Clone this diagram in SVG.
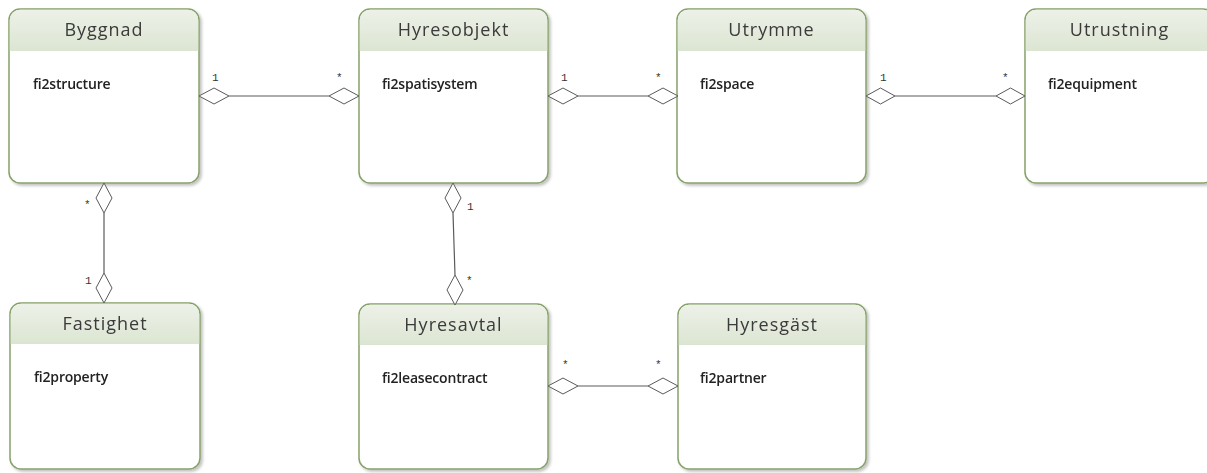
<svg xmlns="http://www.w3.org/2000/svg" width="1207" height="473" viewBox="0 0 1207 473">
<defs>
<linearGradient id="hg" x1="0" y1="0" x2="0" y2="1">
<stop offset="0" stop-color="#edf1e8"/>
<stop offset="1" stop-color="#dce5d2"/>
</linearGradient>
<filter id="sh" x="-10%" y="-10%" width="120%" height="120%">
<feGaussianBlur in="SourceAlpha" stdDeviation="1.5"/>
<feOffset dx="2" dy="2" result="b"/>
<feComponentTransfer><feFuncA type="linear" slope="0.25"/></feComponentTransfer>
<feMerge><feMergeNode/><feMergeNode in="SourceGraphic"/></feMerge>
</filter>
</defs>
<style>
.box{fill:#fff;stroke:#86a26a;stroke-width:1.5}
.hdr{fill:url(#hg)}
.title{font-family:"Open Sans","Noto Sans",sans-serif;font-size:18px;fill:#3a3a3a;text-anchor:middle;letter-spacing:1px}
.attr{font-family:"Open Sans","Noto Sans",sans-serif;font-size:14px;font-weight:600;fill:#222;letter-spacing:-0.2px}
.ln{stroke:#5a5a5a;stroke-width:1.2;fill:none}
.dm{fill:#fff;stroke:#5a5a5a;stroke-width:1}
.ml{font-family:"Liberation Mono","DejaVu Sans Mono",monospace;font-size:11px;fill:#333}
</style>
<g id="Byggnad" filter="url(#sh)">
<rect class="box" x="9" y="9" width="190" height="174" rx="11"/>
<path class="hdr" d="M20,9.75 H188 A10.25,10.25 0 0 1 198.25,20 V51 H9.75 V20 A10.25,10.25 0 0 1 20,9.75 Z"/>
<text class="title" x="104" y="36">Byggnad</text>
<text class="attr" x="33" y="89">fi2structure</text>
</g>
<g id="Hyresobjekt" filter="url(#sh)">
<rect class="box" x="359" y="9" width="189" height="174" rx="11"/>
<path class="hdr" d="M370,9.75 H537 A10.25,10.25 0 0 1 547.25,20 V51 H359.75 V20 A10.25,10.25 0 0 1 370,9.75 Z"/>
<text class="title" x="453.5" y="36">Hyresobjekt</text>
<text class="attr" x="382" y="89">fi2spatisystem</text>
</g>
<g id="Utrymme" filter="url(#sh)">
<rect class="box" x="677" y="9" width="189" height="174" rx="11"/>
<path class="hdr" d="M688,9.75 H855 A10.25,10.25 0 0 1 865.25,20 V51 H677.75 V20 A10.25,10.25 0 0 1 688,9.75 Z"/>
<text class="title" x="771.5" y="36">Utrymme</text>
<text class="attr" x="700" y="89">fi2space</text>
</g>
<g id="Utrustning" filter="url(#sh)">
<rect class="box" x="1025" y="9" width="189" height="174" rx="11"/>
<path class="hdr" d="M1036,9.75 H1203 A10.25,10.25 0 0 1 1213.25,20 V51 H1025.75 V20 A10.25,10.25 0 0 1 1036,9.75 Z"/>
<text class="title" x="1119.5" y="36">Utrustning</text>
<text class="attr" x="1048" y="89">fi2equipment</text>
</g>
<g id="Fastighet" filter="url(#sh)">
<rect class="box" x="10" y="303" width="190" height="166" rx="11"/>
<path class="hdr" d="M21,303.75 H189 A10.25,10.25 0 0 1 199.25,314 V344 H10.75 V314 A10.25,10.25 0 0 1 21,303.75 Z"/>
<text class="title" x="105" y="330">Fastighet</text>
<text class="attr" x="34" y="382">fi2property</text>
</g>
<g id="Hyresavtal" filter="url(#sh)">
<rect class="box" x="359" y="304" width="189" height="165" rx="11"/>
<path class="hdr" d="M370,304.75 H537 A10.25,10.25 0 0 1 547.25,315 V345 H359.75 V315 A10.25,10.25 0 0 1 370,304.75 Z"/>
<text class="title" x="453.5" y="331">Hyresavtal</text>
<text class="attr" x="382" y="383">fi2leasecontract</text>
</g>
<g id="Hyresgast" filter="url(#sh)">
<rect class="box" x="678" y="304" width="188" height="165" rx="11"/>
<path class="hdr" d="M689,304.75 H855 A10.25,10.25 0 0 1 865.25,315 V345 H678.75 V315 A10.25,10.25 0 0 1 689,304.75 Z"/>
<text class="title" x="772" y="331">Hyresgäst</text>
<text class="attr" x="700" y="383">fi2partner</text>
</g>
<g id="connectors">
<line class="ln" x1="229" y1="96" x2="329" y2="96"/>
<polygon class="dm" points="199,96 214,88 229,96 214,104"/>
<polygon class="dm" points="329,96 344,88 359,96 344,104"/>
<text class="ml" x="212" y="81">1</text>
<text class="ml" x="336" y="81">*</text>

<line class="ln" x1="578" y1="96" x2="648" y2="96"/>
<polygon class="dm" points="548,96 563,88 578,96 563,104"/>
<polygon class="dm" points="648,96 663,88 678,96 663,104"/>
<text class="ml" x="561" y="81">1</text>
<text class="ml" x="655" y="81">*</text>

<line class="ln" x1="895" y1="96" x2="996" y2="96"/>
<polygon class="dm" points="866,96 880.5,88 895,96 880.5,104"/>
<polygon class="dm" points="996,96 1010.5,88 1025,96 1010.5,104"/>
<text class="ml" x="880" y="81">1</text>
<text class="ml" x="1002" y="81">*</text>

<line class="ln" x1="104" y1="213" x2="104" y2="273"/>
<polygon class="dm" points="104,183 112,198 104,213 96,198"/>
<polygon class="dm" points="104,273 112,288 104,303 96,288"/>
<text class="ml" x="84" y="208">*</text>
<text class="ml" x="85" y="284">1</text>

<line class="ln" x1="453" y1="213" x2="455" y2="275"/>
<polygon class="dm" points="453,183 461,198 453,213 445,198"/>
<polygon class="dm" points="455,275 463,290 455,305 447,290"/>
<text class="ml" x="467" y="210">1</text>
<text class="ml" x="466" y="284">*</text>

<line class="ln" x1="578" y1="386" x2="648" y2="386"/>
<polygon class="dm" points="548,386 563,378 578,386 563,394"/>
<polygon class="dm" points="648,386 663,378 678,386 663,394"/>
<text class="ml" x="562" y="368">*</text>
<text class="ml" x="655" y="368">*</text>
</g>
</svg>
